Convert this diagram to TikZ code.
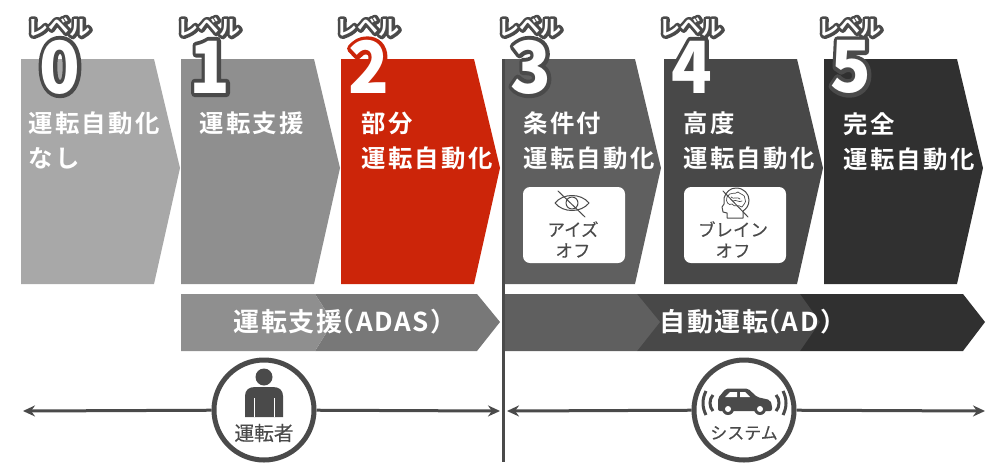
\documentclass[tikz,border=0pt]{standalone}
\usepackage{fontspec}
\usetikzlibrary{arrows.meta}
\setmainfont{Noto Sans CJK JP}
\newfontfamily\cjkmed[LetterSpace=10]{Noto Sans CJK JP Bold}
\newfontfamily\cjkbar[LetterSpace=6]{Noto Sans CJK JP Bold}
\newfontfamily\cjktag{Noto Sans CJK JP Bold}
\newfontfamily\cjkblk{Noto Sans CJK JP Black}
\newfontfamily\cjkreg[FakeBold=.25]{Noto Sans CJK JP}
\definecolor{ink}{HTML}{4A4A4A}
\definecolor{lvA}{HTML}{A8A8A8}
\definecolor{lvB}{HTML}{8F8F8F}
\definecolor{lvC}{HTML}{CC2509}
\definecolor{lvD}{HTML}{5F5F5F}
\definecolor{lvE}{HTML}{484848}
\definecolor{lvF}{HTML}{303030}
\definecolor{lvG}{HTML}{787878}
\newcommand{\halo}[3]{\rlap{\special{pdf:code 1 J 1 j #2 w}\pgfsetstrokecolor{#3}\special{pdf:code 2 Tr}#1\special{pdf:code 0 Tr}}#1}
\tikzset{
	title/.style={text=white,font=\cjkmed\fontsize{24.4}{35}\selectfont,inner sep=0,anchor=north west,align=left},
	tag/.style={text=white,font=\cjktag\fontsize{21}{21}\selectfont,inner sep=0},
	digit/.style={text=white,font=\cjkblk\fontsize{72}{72}\selectfont,inner sep=0,xscale=.93},
	bartext/.style={text=white,font=\cjkbar\fontsize{26}{26}\selectfont,inner sep=0},
	badge/.style={circle,draw=ink,line width=5pt,fill=white,minimum size=100pt,inner sep=0},
	plate/.style={fill=white,rounded corners=7pt},
	capt/.style={text=ink,font=\cjkreg\fontsize{17.5}{21}\selectfont,inner sep=0,align=center},
	ticon/.style={draw=ink,line width=1pt,line join=round,line cap=round},
	span/.style={ink,line width=3pt,-{Stealth[length=12pt,width=11pt]}}
}
\begin{document}
\begin{tikzpicture}[x=1pt,y=-1pt]
	\useasboundingbox (0,0) rectangle (1000,475);
	\foreach \x/\c in {21/lvA,181/lvB,341/lvC,502/lvD,664/lvE,824/lvF}
		\fill[\c] (\x,59)--(\x+133,59)--(\x+159,168)--(\x+133,284)--(\x,284)--cycle;
	\foreach \x/\n/\c in {59/0/ink,209/1/ink,368/2/lvC,530/3/ink,691/4/lvE,850/5/ink}{
		\node[tag] (tag\n) at (\x,27) {\halo{レ\raisebox{2pt}{ベ}ル}{6}{ink}};
		\node[digit] (num\n) at (\x+1,67) {\halo{\n}{8}{\c}};
	}
	\node[title] (txtA) at (28,112) {運転自動化\\なし};
	\node[title] (txtB) at (199,112) {運転支援};
	\node[title] (txtC) at (361,112) {部分\\運転自動化};
	\node[title] (txtD) at (523,112) {条件付\\運転自動化};
	\node[title] (txtE) at (683,112) {高度\\運転自動化};
	\node[title] (txtF) at (843,112) {完全\\運転自動化};
	\fill[plate] (523,187) rectangle (625,263);
	\fill[plate] (684,187) rectangle (786,263);
	\draw[ticon] (555,203) .. controls (563,193) and (581,193) .. (589,203) .. controls (581,213) and (563,213) .. (555,203) -- cycle;
	\draw[ticon] (572,203) circle (6);
	\draw[ticon] (558,191)--(585,217);
	\draw[ticon] (724,198) .. controls (726,192) and (730,188) .. (736,188) .. controls (744,188) and (749,194) .. (749,200) .. controls (749,206) and (746,209) .. (743,211) -- (743,218) -- (727,218) -- (727,213) -- (723,212) -- (722,207) -- (724,204) -- cycle;
	\draw[ticon,line width=.7pt] (727,197) .. controls (730,191) and (735,195) .. (738,192) .. controls (741,195) and (745,194) .. (745,199) .. controls (747,203) and (743,204) .. (742,207) .. controls (738,204) and (735,208) .. (732,204) .. controls (729,206) and (725,202) .. (727,197) -- cycle;
	\draw[ticon,line width=.7pt] (731,197) .. controls (734,200) and (737,196) .. (740,199) (733,201) .. controls (736,199) and (739,203) .. (742,201);
	\draw[ticon] (723,191)--(748,217);
	\node[capt] (capA) at (573,239.5) {アイズ\\オフ};
	\node[capt] (capB) at (733,239.5) {ブレイン\\オフ};
	\fill[lvG] (315,294)--(477,294)--(500,322)--(477,351)--(315,351)--(333,322)--cycle;
	\fill[lvB] (181,294)--(315,294)--(333,322)--(315,351)--(181,351)--cycle;
	\fill[lvF] (800,294)--(963,294)--(985,322)--(963,351)--(800,351)--cycle;
	\fill[lvE] (637,294)--(800,294)--(820,322)--(800,351)--(637,351)--cycle;
	\fill[lvD] (505,294)--(637,294)--(660,322)--(637,351)--(505,351)--cycle;
	\node[bartext] (barA) at (345,322) {運転支援\hspace{-14pt}（ADAS）\hspace{-9pt}};
	\node[bartext] (barB) at (753,322) {自動運転\hspace{-14pt}（AD）\hspace{-9pt}};
	\coordinate (endA) at (23,411);
	\coordinate (endB) at (500,411);
	\coordinate (endC) at (507,411);
	\coordinate (endD) at (985,411);
	\node[badge] (drv) at (264,410) {};
	\node[badge] (sys) at (744,410) {};
	\draw[span] (drv)--(endA);
	\draw[span] (drv)--(endB);
	\draw[span] (sys)--(endC);
	\draw[span] (sys)--(endD);
	\draw[ink,line width=3pt] (503.5,59)--(503.5,462);
	\fill[ink] (264,377) circle (8.5);
	\fill[ink] (245,417)--(245,396) .. controls (245,390) and (249,387) .. (255,387)--(273,387) .. controls (279,387) and (283,390) .. (283,396)--(283,417)--cycle;
	\draw[white,line width=1pt] (254,398)--(254,417) (274,398)--(274,417);
	\node[capt,font=\cjkreg\fontsize{19.7}{20}\selectfont] (capC) at (264,433) {運転者};
	\fill[ink,rounded corners=2pt] (718,411)--(718,398)--(726,388.5)--(748,388.5)--(757,397)--(770,400)--(772,405)--(772,411)--cycle;
	\fill[white] (725,397)--(730,392)--(737,392)--(737,397)--cycle (740,392)--(745,392)--(750,397)--(740,397)--cycle;
	\fill[ink] (728,409) circle (6) (760,409) circle (6);
	\fill[white] (728,409) circle (3) (760,409) circle (3);
	\foreach \d/\h in {0/8,7/12}{
		\draw[ink,line width=3pt] (713-\d,403-\h) .. controls (709-\d,399) and (709-\d,407) .. (713-\d,403+\h);
		\draw[ink,line width=3pt] (776+\d,403-\h) .. controls (780+\d,399) and (780+\d,407) .. (776+\d,403+\h);
	}
	\node[capt,font=\cjkreg\fontsize{17}{17}\selectfont] (capD) at (744,433) {システム};
\end{tikzpicture}
\end{document}
